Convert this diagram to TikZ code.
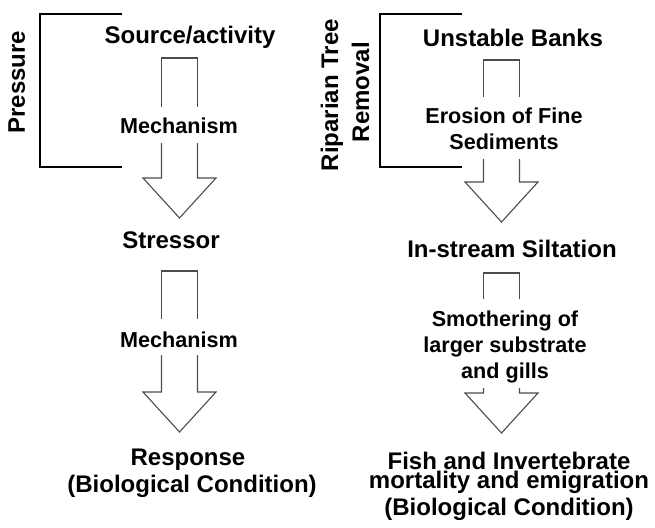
\documentclass[tikz,border=0pt]{standalone}
\usepackage{fontspec}
\setmainfont{Liberation Sans}

\begin{document}
\begin{tikzpicture}[%
    x=0.5pt, y=-0.5pt,
    term/.style={font=\bfseries\fontsize{12}{13}\selectfont, anchor=base, inner sep=0pt, align=center},
    mech/.style={font=\bfseries\fontsize{10.8}{13}\selectfont, anchor=base, inner sep=0pt, align=center},
    bracket/.style={line width=1.3pt},
    blockarrow/.style={line width=0.55pt, draw=black!70},
  ]
    \useasboundingbox (0,0) rectangle (655,527);

    % left column: general model
    \node[term, rotate=90] (pressure) at (25,82)  {Pressure};
    \node[term]            (source)   at (190,43) {Source/activity};
    \node[mech]            (mechA)    at (179,133) {Mechanism};
    \node[term]            (stressor) at (171,248) {Stressor};
    \node[mech]            (mechB)    at (179,347) {Mechanism};
    \node[term]            (response) at (188,465) {Response};
    \node[term]            (biolA)    at (192,492) {(Biological Condition)};

    % right column: example (multi-line nodes sit on their last line)
    \node[term, rotate=90] (riparian) at (338,95)  {Riparian Tree};
    \node[term, rotate=90] (removal)  at (369,92)  {Removal};
    \node[term]            (banks)    at (513,46)  {Unstable Banks};
    \node[mech]            (erosion)  at (504,149) {Erosion of Fine\\Sediments};
    \node[term]            (silt)     at (512,257) {In-stream Siltation};
    \node[mech]            (smother)  at (505,378) {Smothering of\\larger substrate\\and gills};
    \node[term]            (fish)     at (509,469) {Fish and Invertebrate};
    \node[term]            (mortal)   at (509,488.5) {mortality and emigration};
    \node[term]            (biolB)    at (509,515) {(Biological Condition)};

    % brackets
    \draw[bracket] (122,14) -- (40,14) -- (40,167) -- (122,167);
    \draw[bracket] (462,14) -- (380,14) -- (380,167) -- (462,167);

    % block arrows: centre/top/gap start/gap end/shoulder/tip
    \foreach \cx/\top/\gs/\ge/\sh/\tip in {179.5/58/107/143/178/218,
                                           179.5/271/319/355/392/432,
                                           501.5/60/97/159/182/222,
                                           501.5/273/299/388/393/433}{
      \draw[blockarrow] ({\cx-18},\gs) -- ({\cx-18},\top) -- ({\cx+18},\top) -- ({\cx+18},\gs);
      \draw[blockarrow, line join=miter] ({\cx-18},\ge) -- ({\cx-18},\sh) -- ({\cx-36.5},\sh)
        -- (\cx,\tip) -- ({\cx+36.5},\sh) -- ({\cx+18},\sh) -- ({\cx+18},\ge);
    }
  \end{tikzpicture}
\end{document}
